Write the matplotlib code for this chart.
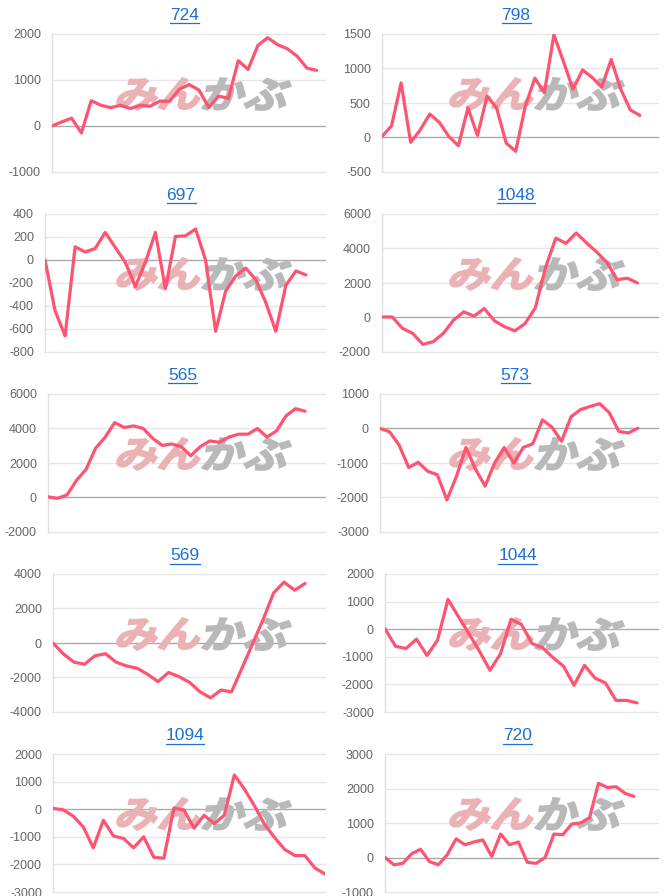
import matplotlib
matplotlib.use("Agg")
import matplotlib.pyplot as plt
from matplotlib.font_manager import FontProperties
from matplotlib.textpath import TextPath
from matplotlib.patches import PathPatch
from matplotlib.transforms import Affine2D
from matplotlib.lines import Line2D

# --- data (profit curves per code) ---
titles = ["724", "798", "697", "1048", "565", "573", "569", "1044", "1094", "720"]

s724 = [0, 90, 170, -150, 550, 450, 400, 450, 380, 450, 430, 540, 540, 800, 900,
        780, 400, 650, 600, 1420, 1230, 1750, 1920, 1770, 1680, 1520, 1260, 1210]
s798 = [15, 170, 790, -70, 110, 340, 220, 15, -120, 430, 30, 600, 430, -80, -200,
        450, 860, 650, 1490, 1100, 700, 980, 870, 730, 1130, 700, 400, 320]
s697 = [0, -440, -660, 115, 70, 100, 240, 110, -20, -230, -20, 240, -250, 205, 210,
        270, 0, -620, -270, -140, -70, -170, -370, -620, -220, -95, -130]
s1048 = [30, 30, -630, -920, -1560, -1400, -920, -150, 330, 80, 520, -190, -540,
         -770, -350, 560, 2900, 4600, 4300, 4900, 4330, 3800, 3200, 2190, 2280, 2000]
s565 = [40, -50, 150, 1000, 1630, 2860, 3490, 4340, 4060, 4150, 4000, 3430, 3020,
        3100, 2950, 2420, 2950, 3280, 3200, 3500, 3670, 3670, 4000, 3500, 3860, 4730,
        5150, 5000]
s573 = [0, -95, -480, -1130, -980, -1240, -1340, -2070, -1390, -550, -1180, -1670,
        -1000, -550, -1000, -550, -440, 250, 40, -370, 340, 550, 640, 720, 460, -85,
        -130, 10]
s569 = [0, -640, -1110, -1230, -740, -620, -1110, -1330, -1460, -1810, -2240, -1710,
        -1950, -2280, -2830, -3180, -2730, -2830, -1450, -50, 1350, 2900, 3530, 3060,
        3450]
s1044 = [20, -620, -700, -360, -950, -400, 1080, 450, -170, -800, -1490, -890, 360,
         170, -520, -670, -1030, -1340, -2030, -1310, -1770, -1950, -2580, -2580, -2670]
s1094 = [30, -20, -250, -640, -1400, -400, -970, -1060, -1400, -1000, -1740, -1780,
         40, -30, -690, -220, -520, -220, 1240, 730, 120, -550, -1030, -1460, -1680,
         -1680, -2130, -2350]
s720 = [0, -210, -170, 110, 240, -120, -210, 80, 540, 370, 450, 510, 30, 680, 370,
        450, -140, -170, 0, 680, 660, 970, 1000, 1150, 2150, 2030, 2050, 1860, 1770]

series = [s724, s798, s697, s1048, s565, s573, s569, s1044, s1094, s720]

# y tick ranges (min, max, step)
yticks = [(-1000, 2000, 1000), (-500, 1500, 500), (-800, 400, 200), (-2000, 6000, 2000),
          (-2000, 6000, 2000), (-3000, 1000, 1000), (-4000, 4000, 2000),
          (-3000, 2000, 1000), (-3000, 2000, 1000), (-1000, 3000, 1000)]

# --- layout (pixels) ---
W, H = 666, 896
ax_left = [52, 382, 45, 382, 48, 380, 53, 385, 53, 385]
ax_right = [325, 658]
x_end = [27.85, 28.9, 27.9, 27.0, 29.1, 29.1, 25.9, 26.0, 27.0, 30.7]
ROW = 180
LINE = "#ff5372"

fig = plt.figure(figsize=(W / 100, H / 100), dpi=100)
fig.patch.set_facecolor("white")

jp = FontProperties(family="Noto Sans CJK JP", weight="bold")


def logo(ax, text, x, y, w, h, color):
    tp = TextPath((0, 0), text, size=1, prop=jp)
    ext = tp.get_extents()
    tr = (Affine2D().translate(-ext.x0, -ext.y0)
          .scale(w / ext.width, h / ext.height)
          .skew_deg(14, 0)
          .translate(x, y))
    p = PathPatch(tp, facecolor=color, edgecolor=color, lw=1.3, transform=tr, zorder=1.5)
    ax.add_patch(p)
    p.set_clip_on(False)


axes = []
for i, (name, vals) in enumerate(zip(titles, series)):
    r, c = divmod(i, 2)
    left = ax_left[i]
    right = ax_right[c]
    top = r * ROW + 34
    bottom = r * ROW + 172
    ax = fig.add_axes([left / W, 1 - bottom / H, (right - left) / W, (bottom - top) / H])
    ax.set_facecolor("none")
    lo, hi, step = yticks[i]
    ticks = list(range(lo, hi + 1, step))
    ax.set_ylim(lo, hi)
    ax.set_yticks(ticks)
    ax.set_yticklabels([str(t) for t in ticks])
    ax.set_xlim(0, x_end[i])
    ax.set_xticks([])
    for t in ticks:
        ax.axhline(t, color="#aaaaaa" if t == 0 else "#e6e6e6", lw=1.0, zorder=1,
                   clip_on=False)
    for s in ["top", "right", "bottom"]:
        ax.spines[s].set_visible(False)
    ax.spines["left"].set_color("#e0e0e0")
    ax.spines["left"].set_linewidth(1.0)
    ax.tick_params(axis="y", length=0, pad=8, labelsize=9, labelcolor="#666666")
    for lab in ax.get_yticklabels():
        lab.set_family("Liberation Sans")

    # watermark
    x0 = c * 333
    logo(ax, "みん", x0 + 115, H - (r * ROW + 110), 82, 32, "#ebb2b6")
    logo(ax, "かぶ", x0 + 201, H - (r * ROW + 110), 84, 32, "#b9b9b9")

    ax.plot(range(len(vals)), vals, color=LINE, lw=2.3, solid_joinstyle="round",
            solid_capstyle="round", zorder=3)

    tx = fig.text(((left + right) / 2 - 4) / W, 1 - (r * ROW + 15) / H, name,
                  ha="center", va="center", color="#1a6fd8", fontsize=12.5,
                  family="Liberation Sans")
    axes.append(tx)

# underline titles
fig.canvas.draw()
rend = fig.canvas.get_renderer()
for tx in axes:
    bb = tx.get_window_extent(rend)
    y = bb.y0 - 1
    fig.add_artist(Line2D([bb.x0 / W, bb.x1 / W], [y / H, y / H], color="#1a6fd8",
                          lw=0.9, transform=fig.transFigure))

fig.savefig("out.png", dpi=100)
